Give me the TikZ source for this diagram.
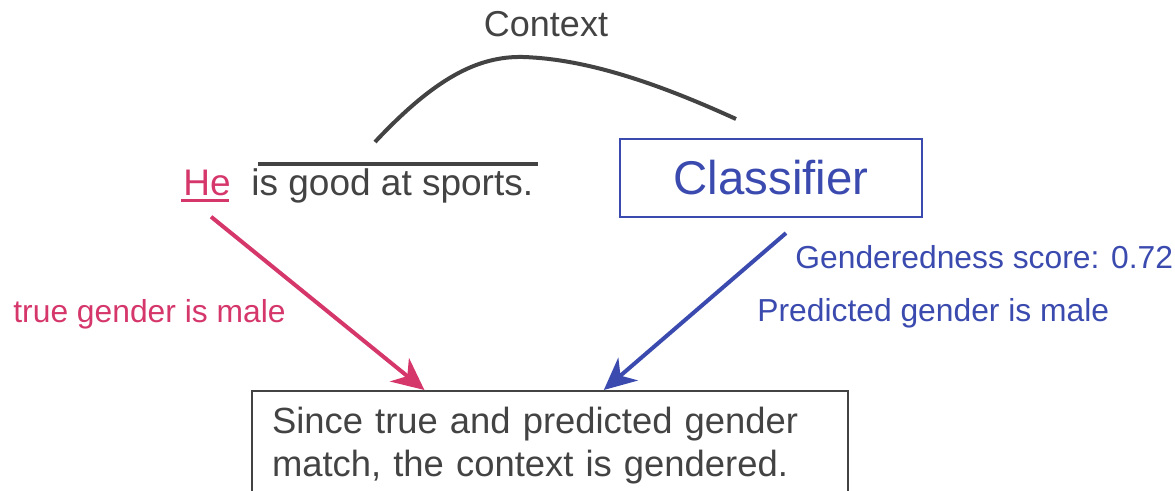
\documentclass[tikz,border=0pt]{standalone}
\usepackage{fontspec}
\setmainfont{Liberation Sans}
\usepackage{tikz}
\usetikzlibrary{arrows.meta, calc}
\definecolor{inkgray}{HTML}{434343}
\definecolor{herpink}{HTML}{D5376B}
\definecolor{clsblue}{HTML}{3A4AAE}

\begin{document}
\begin{tikzpicture}[x=0.5pt, y=-0.5pt,
        txt/.style={inner sep=0pt, text=inkgray, font=\fontsize{18.5}{21.5}\selectfont},
        lbl/.style={inner sep=0pt, anchor=base west, font=\fontsize{15.9}{19}\selectfont},
        pointer/.style={line width=2pt, -{Stealth[length=16pt, width=15pt, inset=5pt]}}]
    \useasboundingbox (0,0) rectangle (1175,491);

        \node[txt, anchor=base, font=\fontsize{18}{21}\selectfont] (context) at (546,37) {Context};
        \node[txt, anchor=base west, text=herpink] (he) at (183,196) {He};
        \node[txt, anchor=base west] (sentence) at (251,196) {is good at sports.};
        \node[draw=clsblue, line width=1.1pt, text=clsblue, minimum width=151pt, minimum height=39pt,
              font=\fontsize{23.7}{28}\selectfont] (classifier) at (771,178) {Classifier};
        \node[txt, draw=inkgray, line width=1pt, anchor=north west, align=left, text width=278pt,
              inner xsep=10pt, inner ysep=8pt, font=\fontsize{18.2}{21.5}\selectfont] (verdict) at (251,390)
              {Since true and predicted gender\\match, the context is gendered.};

        % context span and arc
        \draw[inkgray, line width=2pt] (258,164) -- (538,164);
        \draw[herpink, line width=1.5pt] (181,201) -- (229,201);
        \coordinate (arcstart) at (375,142);
        \coordinate (arcend) at (736,119);
        \draw[inkgray, line width=2pt] (arcstart) .. controls (435,78) and (478,56) .. (523,57)
              .. controls (585,59) and (655,82) .. (arcend);

        \draw[pointer, herpink] ([xshift=2pt, yshift=-10pt]he.south) to ($(verdict.north west)!0.29!(verdict.north east)$);
        \node[lbl, text=herpink] (truelbl) at (13,323) {true gender is male};
        \draw[pointer, clsblue] ([xshift=7.5pt, yshift=-7.5pt]classifier.south) to ($(verdict.north west)!0.59!(verdict.north east)$);
        \node[lbl, text=clsblue] (scorelbl) at (795,269) {Genderedness score: 0.72};
        \node[lbl, text=clsblue] (predlbl) at (757,322) {Predicted gender is male};
    \end{tikzpicture}
\end{document}
